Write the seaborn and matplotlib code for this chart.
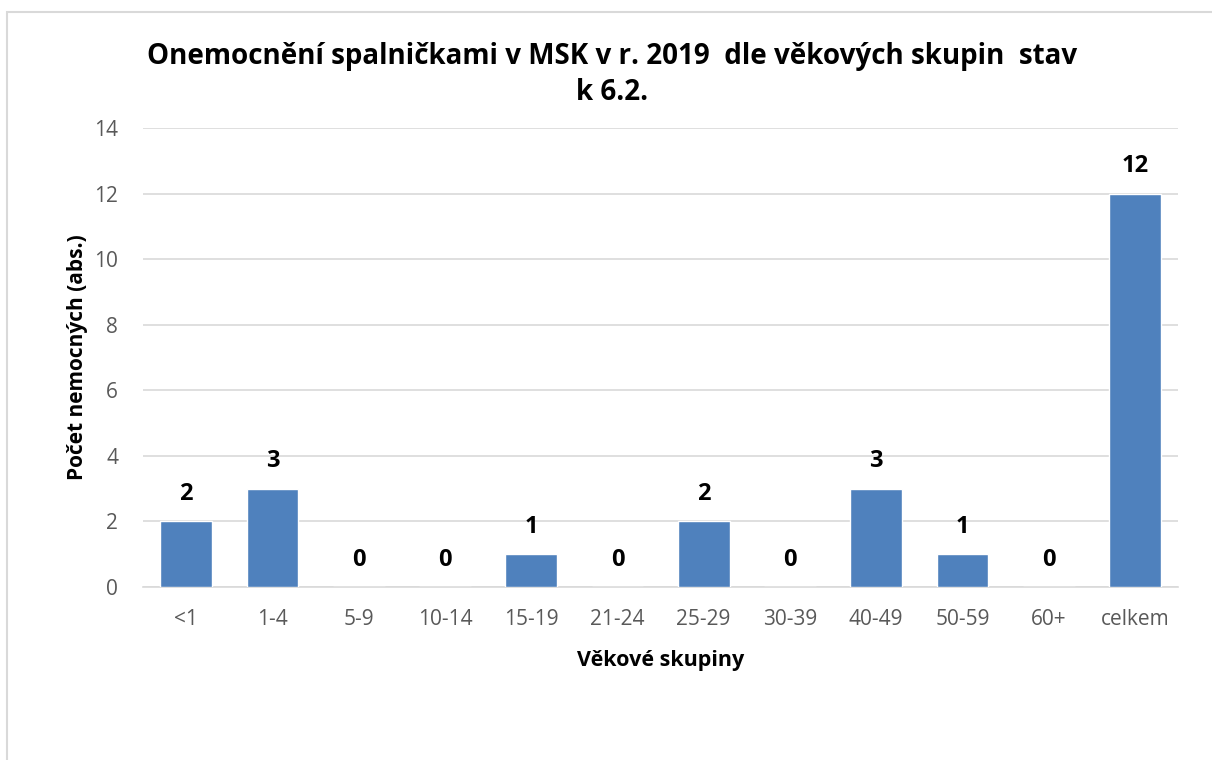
import matplotlib
matplotlib.use("Agg")
import matplotlib.pyplot as plt
import seaborn as sns
import pandas as pd
from matplotlib.patches import Rectangle

# data
groups = ["<1", "1-4", "5-9", "10-14", "15-19", "21-24", "25-29",
          "30-39", "40-49", "50-59", "60+", "celkem"]
cases = [2, 3, 0, 0, 1, 0, 2, 0, 3, 1, 0, 12]
y_ticks = [0, 2, 4, 6, 8, 10, 12, 14]

title = "Onemocnění spalničkami v MSK v r. 2019  dle věkových skupin  stav\nk 6.2."
x_title = "Věkové skupiny"
y_title = "Počet nemocných (abs.)"

sns.set_theme(style="white")
plt.rcParams["font.family"] = ["Open Sans", "DejaVu Sans"]

df = pd.DataFrame({"group": groups, "cases": cases})

fig = plt.figure(figsize=(12.12, 7.6), dpi=100)
ax = fig.add_axes([0.118, 0.2276, 0.854, 0.604])

sns.barplot(data=df, x="group", y="cases", color="#4f81bd", width=0.6,
            saturation=1, ax=ax, zorder=3)

ax.set_ylim(0, 14)
ax.set_yticks(y_ticks)
ax.yaxis.grid(True, color="#d9d9d9", linewidth=1.2, zorder=0)
for s in ["left", "right", "top"]:
    ax.spines[s].set_visible(False)
ax.spines["bottom"].set_color("#d9d9d9")
ax.spines["bottom"].set_linewidth(1.2)
ax.tick_params(axis="both", length=0, colors="#595959", labelsize=15)
ax.tick_params(axis="x", pad=16)
ax.tick_params(axis="y", pad=18)

for i, v in enumerate(cases):
    ax.annotate(str(v), (i, v), xytext=(0, 11), textcoords="offset points",
                ha="center", va="bottom", fontsize=17, fontweight="bold",
                color="black")

ax.set_xlabel(x_title, fontsize=15.5, fontweight="bold", color="black", labelpad=14)
ax.set_ylabel(y_title, fontsize=15, fontweight="bold", color="black", labelpad=4)

fig.text(0.505, 0.902, title, ha="center", va="center", fontsize=20,
         fontweight="bold", color="black", linespacing=1.35)

# outer chart border (only top and left edges fall inside the image)
fig.patches.append(Rectangle((0.006, -0.1), 1.2, 1.084, transform=fig.transFigure,
                             fill=False, edgecolor="#d9d9d9", linewidth=1.5))

fig.savefig("out.png", dpi=100)
